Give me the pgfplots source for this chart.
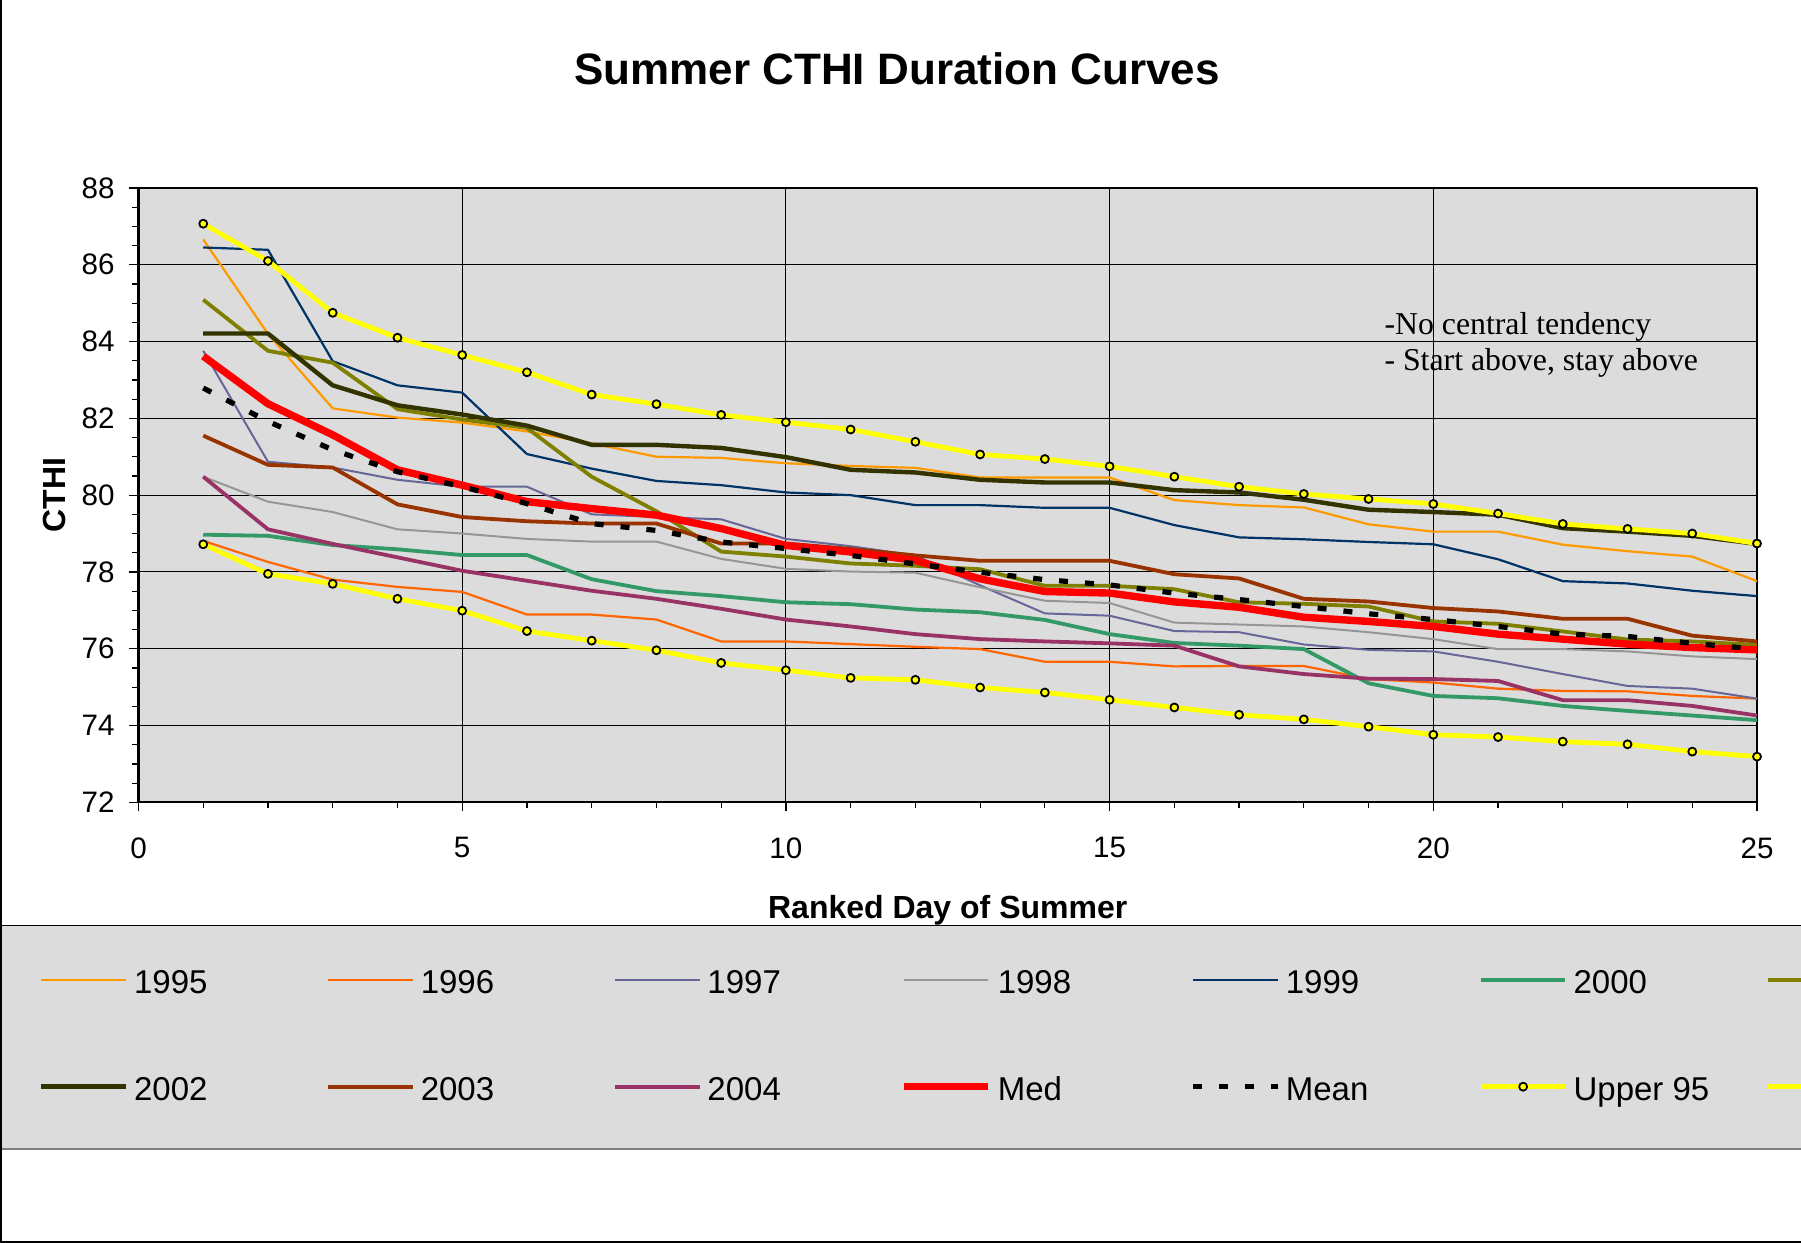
\documentclass[border=0pt]{standalone}
\usepackage{fontspec}
\setmainfont{Liberation Sans}
\newfontfamily\seriffont{Liberation Serif}
\usepackage{pgfplots}
\usepackage{pgfplotstable}
\pgfplotsset{compat=1.18}

\definecolor{c95}{HTML}{FF9900}
\definecolor{c96}{HTML}{FF6600}
\definecolor{c97}{HTML}{666699}
\definecolor{c98}{HTML}{969696}
\definecolor{c99}{HTML}{003366}
\definecolor{c00}{HTML}{339966}
\definecolor{c01}{HTML}{808000}
\definecolor{c02}{HTML}{333300}
\definecolor{c03}{HTML}{993300}
\definecolor{c04}{HTML}{993366}
\definecolor{bggray}{HTML}{DCDCDC}
\definecolor{yel}{HTML}{FFFF00}

\newcommand{\legtxt}[1]{\makebox[96.25pt][l]{\rule[-3.5pt]{0pt}{18.8pt}#1}}

\pgfplotstableread{
day y95 y96 y97 y98 y99 y00 y01 y02 y03 y04 med mean up lo
1 86.66 78.81 83.76 80.48 86.45 78.97 85.09 84.21 81.55 80.48 83.62 82.79 87.07 78.72
2 84.20 78.26 80.87 79.83 86.39 78.94 83.76 84.21 80.79 79.11 82.38 81.92 86.10 77.95
3 82.26 77.80 80.72 79.56 83.49 78.70 83.45 82.86 80.72 78.73 81.57 81.18 84.75 77.69
4 82.02 77.61 80.40 79.11 82.86 78.59 82.24 82.34 79.76 78.38 80.66 80.61 84.10 77.30
5 81.89 77.48 80.22 79.00 82.67 78.44 81.97 82.10 79.43 78.03 80.26 80.22 83.65 76.99
6 81.66 76.89 80.22 78.86 81.07 78.44 81.75 81.81 79.32 77.77 79.83 79.78 83.20 76.46
7 81.35 76.89 79.50 78.79 80.69 77.81 80.48 81.31 79.26 77.51 79.65 79.26 82.62 76.21
8 81.00 76.76 79.43 78.79 80.37 77.50 79.58 81.31 79.26 77.30 79.48 79.08 82.37 75.96
9 80.97 76.19 79.37 78.34 80.26 77.37 78.53 81.23 78.74 77.04 79.13 78.78 82.09 75.63
10 80.83 76.19 78.86 78.08 80.07 77.21 78.40 80.99 78.74 76.76 78.69 78.61 81.90 75.44
11 80.76 76.12 78.67 78.01 80.00 77.16 78.22 80.66 78.60 76.58 78.52 78.43 81.71 75.24
12 80.71 76.05 78.43 77.98 79.74 77.02 78.16 80.59 78.43 76.38 78.30 78.21 81.39 75.19
13 80.46 75.99 77.65 77.60 79.74 76.95 78.07 80.40 78.29 76.25 77.82 77.99 81.06 74.99
14 80.46 75.66 76.92 77.25 79.67 76.75 77.64 80.33 78.29 76.19 77.49 77.80 80.94 74.86
15 80.46 75.66 76.86 77.19 79.67 76.38 77.64 80.33 78.29 76.14 77.45 77.66 80.75 74.67
16 79.87 75.54 76.46 76.68 79.22 76.15 77.55 80.13 77.94 76.08 77.22 77.45 80.48 74.47
17 79.74 75.55 76.43 76.63 78.90 76.08 77.21 80.07 77.83 75.54 77.08 77.28 80.22 74.28
18 79.68 75.55 76.11 76.58 78.85 75.99 77.17 79.88 77.30 75.34 76.82 77.10 80.03 74.16
19 79.24 75.21 75.97 76.43 78.78 75.10 77.10 79.62 77.23 75.22 76.71 76.91 79.90 73.97
20 79.05 75.12 75.93 76.25 78.72 74.77 76.71 79.56 77.06 75.21 76.58 76.76 79.77 73.76
21 79.05 74.96 75.66 75.99 78.33 74.71 76.65 79.49 76.97 75.16 76.38 76.58 79.52 73.70
22 78.71 74.90 75.34 75.99 77.76 74.51 76.45 79.14 76.78 74.66 76.25 76.38 79.25 73.58
23 78.54 74.89 75.03 75.93 77.70 74.38 76.24 79.05 76.78 74.66 76.12 76.32 79.12 73.51
24 78.40 74.77 74.96 75.80 77.51 74.26 76.19 78.94 76.34 74.51 76.03 76.14 79.00 73.32
25 77.76 74.70 74.70 75.73 77.37 74.14 76.10 78.73 76.19 74.26 75.97 75.99 78.74 73.19
}\cthi

\begin{document}
\begin{tikzpicture}
\useasboundingbox (0,0) rectangle (900.5pt,621.5pt);
\clip (0,0) rectangle (900.5pt,621.5pt);
\fill[white] (0,0) rectangle (900.5pt,621.5pt);
% legend box
\fill[bggray] (1pt,47.15pt) rectangle (930pt,158.65pt);
\draw[black, line width=0.6pt] (1pt,158.65pt) -- (930pt,158.65pt);
\draw[gray, line width=1pt] (1pt,47.15pt) -- (930pt,47.15pt);
\begin{axis}[
  at={(69.25pt,220.35pt)}, anchor=south west,
  scale only axis, width=809.25pt, height=307.15pt,
  xmin=0, xmax=25, ymin=72, ymax=88,
  xtick={0,5,...,25}, ytick={72,74,...,88},
  minor x tick num=4, minor y tick num=3,
  grid=major,
  major grid style={black, line width=0.5pt},
  axis background/.style={fill=bggray},
  axis line style={black, line width=1.2pt},
  tick align=outside,
  xtick pos=left, ytick pos=left,
  major tick length=4.5pt, minor tick length=3pt,
  every tick/.style={black, line width=0.6pt},
  /pgf/number format/assume math mode=true,
  tick label style={font=\fontsize{14.8}{17}\selectfont},
  yticklabel style={anchor=east, inner sep=0pt, xshift=-7.25pt},
  xticklabel style={anchor=north, inner sep=0pt, yshift=-12.85pt},
  title={Summer CTHI Duration Curves},
  every axis title/.style={at={(axis description cs:0.46864,1.16767)}, anchor=base, inner sep=0pt, font=\bfseries\fontsize{22}{27}\selectfont},
  xlabel={Ranked Day of Summer},
  every axis x label/.style={at={(axis description cs:0.5,-0.18835)}, anchor=base, inner sep=0pt, font=\bfseries\fontsize{16}{19}\selectfont},
  ylabel={CTHI},
  every axis y label/.style={at={(axis description cs:-0.0522,0.5)}, rotate=90, anchor=center, inner sep=0pt, font=\bfseries\fontsize{16}{19}\selectfont},
  clip=false,
  line join=round,
  legend image code/.code={\draw[mark repeat=2,mark phase=2,#1] plot coordinates {(0pt,0pt) (21.175pt,0pt) (42.35pt,0pt)};},
  legend cell align=left,
  legend columns=7,
  legend style={
    at={(axis description cs:-0.061291,-0.261436)}, anchor=north west,
    draw=none, fill=none, inner sep=0pt, outer sep=0pt,
    row sep=36.7pt, column sep=0pt,
    nodes={inner sep=0pt, outer sep=0pt},
    /tikz/every odd column/.append style={column sep=2.85pt},
    /tikz/every even column/.append style={column sep=0pt},
    font=\fontsize{16.5}{19}\selectfont},
]
\addplot[c95, line width=1.1pt] table[x=day,y=y95] {\cthi};
\addplot[c96, line width=1.1pt] table[x=day,y=y96] {\cthi};
\addplot[c97, line width=1pt] table[x=day,y=y97] {\cthi};
\addplot[c98, line width=1pt] table[x=day,y=y98] {\cthi};
\addplot[c99, line width=1.1pt] table[x=day,y=y99] {\cthi};
\addplot[c00, line width=1.9pt] table[x=day,y=y00] {\cthi};
\addplot[c01, line width=1.9pt] table[x=day,y=y01] {\cthi};
\addplot[c02, line width=2.2pt] table[x=day,y=y02] {\cthi};
\addplot[c03, line width=1.9pt] table[x=day,y=y03] {\cthi};
\addplot[c04, line width=1.9pt] table[x=day,y=y04] {\cthi};
\addplot[red, line width=3.7pt] table[x=day,y=med] {\cthi};
\addplot[black, line width=2.6pt, dash pattern=on 4.5pt off 8.5pt] table[x=day,y=mean] {\cthi};
\addplot[yel, line width=2.4pt, mark=*, mark size=2pt, mark options={solid, draw=black, fill=yel, line width=0.9pt}] table[x=day,y=up] {\cthi};
\addplot[yel, line width=2.4pt, mark=*, mark size=2pt, mark options={solid, draw=black, fill=yel, line width=0.9pt}] table[x=day,y=lo] {\cthi};
% the 7th legend column (2001, Lower 95) falls past the chart's right edge, as in the reference: only its line samples show
\legend{\legtxt{1995},\legtxt{1996},\legtxt{1997},\legtxt{1998},\legtxt{1999},\legtxt{2000},\legtxt{},\legtxt{2002},\legtxt{2003},\legtxt{2004},\legtxt{Med},\legtxt{Mean},\legtxt{Upper 95},\legtxt{}}
\node[anchor=base west, inner sep=0pt, font=\seriffont\fontsize{15.9}{18}\selectfont] at (axis cs:19.24,84.197) {-No central tendency};
\node[anchor=base west, inner sep=0pt, font=\seriffont\fontsize{15.9}{18}\selectfont] at (axis cs:19.24,83.24) {- Start above, stay above};
\end{axis}
\draw[black, line width=1pt] (0.6pt,621.5pt) -- (0.6pt,0.6pt) -- (905pt,0.6pt);
\end{tikzpicture}
\end{document}
